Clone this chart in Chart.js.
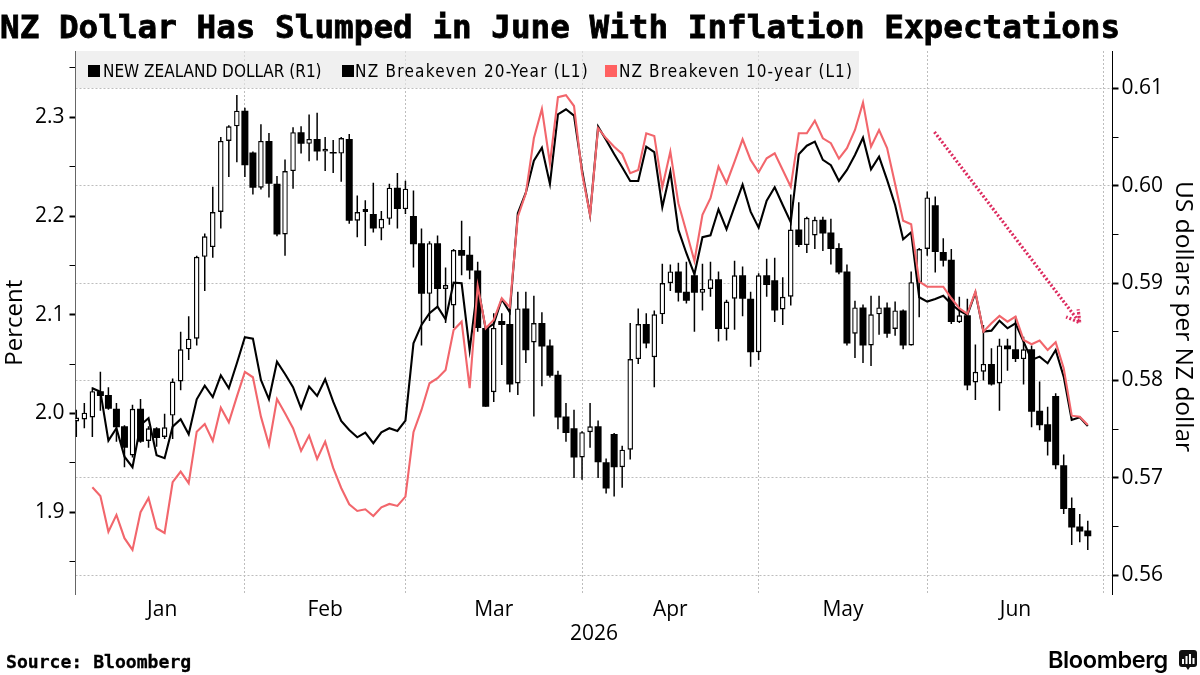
<!DOCTYPE html>
<html>
<head>
<meta charset="utf-8">
<title>NZ Dollar Has Slumped in June With Inflation Expectations</title>
<script src="https://cdn.jsdelivr.net/npm/chart.js@4"></script>
<style>
    html, body { margin: 0; background: #fff; }
    #page { position: relative; width: 1200px; height: 675px; overflow: hidden; color: #000; }
    #page div, #page span { position: absolute; white-space: nowrap; }
    canvas { position: absolute; left: 0; top: 0; }
    #title { left: 0; top: 6px; font: bold 32.65px/42px "DejaVu Sans Mono"; -webkit-text-stroke: 0.8px #000; }
    #source { left: 6px; top: 651px; font: bold 18.1px/22px "DejaVu Sans Mono"; -webkit-text-stroke: 0.3px #000; }
    #legend { left: 76px; top: 51px; width: 783px; height: 37px; background: rgba(232, 232, 232, 0.65); }
    #legend span { font: condensed 17px/20px "DejaVu Sans"; top: 10px; }
    #legend i { position: absolute; top: 14px; width: 12px; height: 12px; }
    #rightTitle { left: 1170px; top: 181px; writing-mode: vertical-rl; font: 24.5px/30px "Open Sans"; }
    #brand { left: 1048px; top: 645px; font: 600 23.5px/30px Inter; letter-spacing: -0.4px; }
    #brandIcon { position: absolute; left: 1179px; top: 650px; }
</style>
</head>
<body>
<div id="page">
    <canvas id="chart" width="1200" height="675"></canvas>
    <div id="title">NZ Dollar Has Slumped in June With Inflation Expectations</div>
    <div id="legend"></div>
    <div id="rightTitle">US dollars per NZ dollar</div>
    <div id="source">Source: Bloomberg</div>
    <div id="brand">Bloomberg</div>
    <svg id="brandIcon" width="18" height="20" viewBox="0 0 18 20">
        <rect x="0" y="0" width="18" height="17" rx="3" fill="#111"/>
        <path d="M7 17h4l-2 3z" fill="#111"/>
        <rect x="3" y="9" width="2" height="5" fill="#fff"/>
        <rect x="6.5" y="6" width="2" height="8" fill="#fff"/>
        <rect x="10" y="4" width="2" height="10" fill="#fff"/>
        <rect x="13.5" y="8" width="2" height="6" fill="#fff"/>
    </svg>
</div>

<script>
// NZD/USD daily candles, trading days from 2 Jan 2026
const open = [
    .5758, .5760, .5762, .5789, .5785, .5771, .5753, .5723, .5771, .5738,
    .5751, .5742, .5764, .5799, .5832, .5843, .5927, .5937, .5973, .6046,
    .6061, .6077, .6034, .5998, .6046, .6002, .5950, .6015, .6055, .6043,
    .6048, .6035, .6034, .6033, .6048, .5964, .5973, .5971, .5956, .5966,
    .5998, .5976, .5969, .5941, .5889, .5941, .5894, .5877, .5934, .5929,
    .5913, .5854, .5788, .5861, .5858, .5797, .5874, .5839, .5859, .5836,
    .5806, .5763, .5751, .5721, .5747, .5753, .5716, .5745, .5711, .5729,
    .5822, .5858, .5824, .5868, .5900, .5912, .5891, .5908, .5890, .5894,
    .5904, .5853, .5884, .5908, .5884, .5829, .5908, .5903, .5873, .5886,
    .5955, .5939, .5949, .5965, .5952, .5936, .5912, .5848, .5875, .5836,
    .5868, .5875, .5853, .5872, .5836, .5901, .5935, .5980, .5932, .5924,
    .5860, .5867, .5798, .5809, .5817, .5797, .5836, .5832, .5822, .5832,
    .5769, .5755, .5784, .5713, .5669, .5650, .5646
];
const close = [
    .5762, .5767, .5789, .5784, .5771, .5752, .5731, .5771, .5737, .5751,
    .5741, .5752, .5799, .5832, .5843, .5927, .5948, .5973, .6046, .6061,
    .6077, .6021, .5998, .6046, .6002, .5950, .6015, .6055, .6043, .6048,
    .6035, .6038, .6033, .6049, .5964, .5973, .5976, .5956, .5966, .5998,
    .5976, .5997, .5940, .5889, .5941, .5894, .5898, .5934, .5928, .5913,
    .5854, .5773, .5854, .5857, .5796, .5874, .5831, .5859, .5835, .5805,
    .5762, .5746, .5721, .5747, .5753, .5716, .5689, .5711, .5729, .5822,
    .5858, .5838, .5868, .5900, .5912, .5890, .5882, .5890, .5894, .5904,
    .5853, .5881, .5908, .5884, .5829, .5908, .5898, .5872, .5886, .5955,
    .5939, .5967, .5965, .5951, .5935, .5911, .5838, .5875, .5836, .5868,
    .5875, .5848, .5872, .5836, .5901, .5935, .5988, .5932, .5923, .5860,
    .5867, .5795, .5809, .5817, .5796, .5836, .5832, .5822, .5832, .5768,
    .5754, .5737, .5713, .5668, .5649, .5645, .5640
];
const high = [
    .5770, .5777, .5793, .5809, .5793, .5777, .5754, .5775, .5781, .5753,
    .5752, .5766, .5802, .5850, .5866, .5928, .5951, .5999, .6050, .6062,
    .6093, .6080, .6035, .6063, .6054, .6010, .6027, .6060, .6061, .6073,
    .6075, .6050, .6047, .6050, .6053, .5990, .5985, .6003, .5974, .6002,
    .6013, .6005, .5995, .5956, .5943, .5949, .5916, .5935, .5964, .5948,
    .5922, .5856, .5869, .5869, .5870, .5891, .5891, .5887, .5870, .5842,
    .5810, .5777, .5770, .5748, .5777, .5759, .5720, .5746, .5733, .5859,
    .5874, .5869, .5872, .5920, .5919, .5921, .5922, .5913, .5920, .5922,
    .5912, .5883, .5923, .5917, .5891, .5910, .5925, .5926, .5906, .5991,
    .5983, .5968, .5968, .5968, .5966, .5941, .5919, .5882, .5878, .5887,
    .5887, .5880, .5881, .5873, .5912, .5936, .5994, .5989, .5946, .5935,
    .5886, .5884, .5837, .5857, .5833, .5843, .5843, .5866, .5845, .5836,
    .5799, .5773, .5787, .5724, .5680, .5663, .5656
];
const low = [
    .5742, .5751, .5742, .5769, .5770, .5737, .5711, .5721, .5736, .5731,
    .5732, .5740, .5740, .5790, .5821, .5836, .5892, .5926, .5956, .6009,
    .6024, .6009, .5991, .5996, .5988, .5948, .5928, .5997, .6033, .6025,
    .6026, .6015, .6013, .6004, .5961, .5947, .5938, .5952, .5944, .5960,
    .5956, .5971, .5916, .5836, .5861, .5876, .5859, .5854, .5908, .5904,
    .5850, .5773, .5778, .5816, .5788, .5785, .5818, .5763, .5794, .5803,
    .5750, .5737, .5700, .5698, .5731, .5700, .5684, .5681, .5690, .5719,
    .5817, .5833, .5793, .5858, .5892, .5881, .5879, .5850, .5872, .5886,
    .5840, .5841, .5852, .5866, .5814, .5821, .5886, .5860, .5857, .5877,
    .5937, .5931, .5935, .5933, .5919, .5909, .5836, .5823, .5818, .5815,
    .5847, .5844, .5846, .5832, .5836, .5865, .5928, .5911, .5917, .5858,
    .5859, .5790, .5780, .5800, .5795, .5769, .5810, .5819, .5796, .5752,
    .5749, .5723, .5709, .5663, .5631, .5634, .5626
];

// Breakeven rates in percent, same trading days
const breakeven20 = [
    null, null, 2.0256, 2.0221, 1.9725, 1.9851, 1.9563, 1.9456, 1.9884, 1.9952,
    1.9577, 1.9547, 1.9867, 1.9942, 1.979, 2.0144, 2.0282, 2.0167, 2.0387, 2.0256,
    2.0509, 2.0772, 2.0758, 2.034, 2.0144, 2.0525, 2.04, 2.0266, 2.0053, 2.0272,
    2.0178, 2.0347, 2.012, 1.9924, 1.9833, 1.9759, 1.9806, 1.9699, 1.981, 1.9851,
    1.9823, 1.9927, 2.0711, 2.0897, 2.1015, 2.1082, 2.0954, 2.1325, 2.1319, 2.0643,
    2.1302, 2.0853, 2.0907, 2.1157, 2.1025, 2.2028, 2.2236, 2.256, 2.2692, 2.2325,
    2.303, 2.3081, 2.3016, 2.2466, 2.2011, 2.2905, 2.277, 2.2628, 2.2494, 2.2355,
    2.2355, 2.2702, 2.2646, 2.2089, 2.2449, 2.1859, 2.1623, 2.141, 2.1785, 2.1805,
    2.2068, 2.1866, 2.2095, 2.2317, 2.2044, 2.1882, 2.2155, 2.2291, 2.2112, 2.1937,
    2.2625, 2.2712, 2.2753, 2.2568, 2.2514, 2.2355, 2.2466, 2.2618, 2.2793, 2.2473,
    2.2601, 2.2365, 2.2112, 2.1765, 2.1835, 2.1177, 2.1133, 2.116, 2.1193, 2.1109,
    2.1041, 2.0998, 2.1224, 2.0829, 2.0839, 2.094, 2.0863, 2.0914, 2.0728, 2.0542,
    2.0576, 2.0509, 2.0643, 2.0373, 1.9935, 1.9962, 1.9874
];
const breakeven10 = [
    null, null, 1.9253, 1.9165, 1.8803, 1.8973, 1.8737, 1.8618, 1.9, 1.9145,
    1.8838, 1.879, 1.9304, 1.9411, 1.9294, 1.9816, 1.9894, 1.9722, 2.0059, 1.9911,
    2.0171, 2.0421, 2.0367, 1.9968, 1.9681, 2.0147, 2.0002, 1.9851, 1.9621, 1.9776,
    1.954, 1.9715, 1.9449, 1.9246, 1.9081, 1.9013, 1.903, 1.8962, 1.905, 1.9084,
    1.9064, 1.9158, 1.981, 2.0036, 2.0306, 2.0357, 2.0441, 2.0846, 2.093, 2.0256,
    2.1292, 2.0863, 2.0947, 2.1167, 2.1076, 2.1993, 2.223, 2.2787, 2.3084, 2.2534,
    2.3203, 2.3223, 2.3114, 2.2433, 2.2011, 2.2889, 2.2787, 2.2702, 2.2628, 2.2433,
    2.2466, 2.2838, 2.2811, 2.2291, 2.2652, 2.2129, 2.1841, 2.1545, 2.2011, 2.218,
    2.25, 2.2332, 2.255, 2.2777, 2.2568, 2.2443, 2.2585, 2.2635, 2.2466, 2.2297,
    2.2838, 2.2838, 2.2966, 2.2787, 2.2737, 2.2581, 2.2686, 2.2871, 2.3148, 2.2702,
    2.2871, 2.2689, 2.2325, 2.1953, 2.1916, 2.1335, 2.1284, 2.1284, 2.1284, 2.1167,
    2.1066, 2.1008, 2.1234, 2.0829, 2.0914, 2.0988, 2.093, 2.0981, 2.0745, 2.0701,
    2.0738, 2.0643, 2.0721, 2.0458, 1.9978, 1.9968, 1.9884
];

const months = ['Jan', 'Feb', 'Mar', 'Apr', 'May', 'Jun'];
const monthStarts = [21, 41, 63, 85, 106, 128];
const monthCentres = [10.7, 31, 52, 74, 95.5, 117];
const percentTicks = [1.9, 2.0, 2.1, 2.2, 2.3];
const percentMinor = [1.85, 1.95, 2.05, 2.15, 2.25, 2.35];
const dollarTicks = [0.56, 0.57, 0.58, 0.59, 0.60, 0.61];
const dollarMinor = [0.565, 0.575, 0.585, 0.595, 0.605];

// trend arrow, shaft then the two sides of the head
const arrowX = [106.9, 125, 124.8, 125, 123.3];
const arrowY = [2.2851, 2.092, 2.1056, 2.092, 2.0978];

const legendItems = [
    { label: 'NEW ZEALAND DOLLAR (R1)', color: '#000', swatch: 88, text: 103, spacing: 0 },
    { label: 'NZ Breakeven 20-Year (L1)', color: '#000', swatch: 342, text: 355, spacing: 1.25 },
    { label: 'NZ Breakeven 10-year (L1)', color: '#ff6161', swatch: 605, text: 619, spacing: 1.1 }
];

const legend = document.getElementById('legend');
legendItems.forEach(item => {
    const box = document.createElement('i');
    box.style.left = (item.swatch - 76) + 'px';
    box.style.background = item.color;
    legend.appendChild(box);
    const text = document.createElement('span');
    text.style.left = (item.text - 76) + 'px';
    text.style.letterSpacing = item.spacing + 'px';
    text.textContent = item.label;
    legend.appendChild(text);
});

const days = open.map((v, i) => i);
const upDays = days.filter(i => close[i] > open[i]);
const downDays = days.filter(i => close[i] <= open[i]);
const tickFont = { family: 'Open Sans', size: 21 };
const titleFont = { family: 'Open Sans', size: 24 };

const candleBase = { type: 'bar', yAxisID: 'y1', grouped: false, borderSkipped: false, inflateAmount: 0 };

new Chart(document.getElementById('chart'), {
    data: {
        datasets: [
            {
                ...candleBase,
                label: 'wicks',
                order: 5,
                barThickness: 1.5,
                backgroundColor: '#000',
                data: days.map(i => ({ x: i, y: [low[i], high[i]] }))
            },
            {
                ...candleBase,
                label: 'up days',
                order: 4,
                barThickness: 5.5,
                backgroundColor: '#fff',
                borderColor: '#000',
                borderWidth: 1.4,
                data: upDays.map(i => ({ x: i, y: [open[i], close[i]] }))
            },
            {
                ...candleBase,
                label: 'down days',
                order: 3,
                barThickness: 7,
                backgroundColor: '#000',
                minBarLength: 1.5,
                data: downDays.map(i => ({ x: i, y: [open[i], close[i]] }))
            },
            {
                type: 'line',
                label: 'NZ Breakeven 20-Year',
                order: 2,
                yAxisID: 'y',
                borderColor: '#000',
                borderWidth: 2.1,
                pointRadius: 0,
                data: breakeven20.map((v, i) => ({ x: i, y: v }))
            },
            {
                type: 'line',
                label: 'NZ Breakeven 10-year',
                order: 1,
                yAxisID: 'y',
                borderColor: '#f2666c',
                borderWidth: 2.1,
                pointRadius: 0,
                data: breakeven10.map((v, i) => ({ x: i, y: v }))
            },
            {
                type: 'line',
                label: 'trend',
                order: 0,
                yAxisID: 'y',
                borderColor: '#dc2a5e',
                borderWidth: 3.2,
                borderDash: [2, 2],
                pointRadius: 0,
                data: arrowX.map((v, i) => ({ x: v, y: arrowY[i] }))
            }
        ]
    },
    options: {
        responsive: false,
        animation: false,
        layout: { padding: { top: 51, left: 0, right: 0, bottom: 0 } },
        plugins: { legend: { display: false }, tooltip: { enabled: false } },
        scales: {
            x: {
                type: 'linear',
                position: 'bottom',
                min: -0.1,
                max: 129.08,
                offset: false,
                afterBuildTicks: s => { s.ticks = monthStarts.map(v => ({ value: v })); },
                afterFit: s => { s.height = 0; },
                ticks: { display: false },
                grid: { color: '#bdbdbd', lineWidth: 1, offset: false, drawTicks: false },
                border: { display: false, dash: [2, 2] }
            },
            xMonth: {
                type: 'linear',
                axis: 'x',
                position: 'bottom',
                min: -0.1,
                max: 129.08,
                offset: false,
                afterBuildTicks: s => { s.ticks = monthCentres.map(v => ({ value: v })); },
                afterFit: s => { s.height = 80.5; },
                ticks: {
                    autoSkip: false,
                    maxRotation: 0,
                    padding: 3,
                    color: '#000',
                    font: tickFont,
                    callback: v => months[monthCentres.indexOf(v)]
                },
                grid: { display: false, drawTicks: false },
                border: { display: false },
                title: { display: true, text: '2026', color: '#000', font: tickFont, padding: { top: 0, bottom: 28 } }
            },
            y: {
                position: 'left',
                min: 1.8167,
                max: 2.3671,
                afterBuildTicks: s => {
                    s.ticks = percentMinor.concat(percentTicks).sort().map(v => ({ value: v }));
                },
                afterFit: s => { s.width = 75.5; },
                ticks: {
                    autoSkip: false,
                    padding: 5,
                    color: '#000',
                    font: tickFont,
                    callback: v => percentTicks.includes(v) ? v.toFixed(1) : ''
                },
                grid: {
                    drawOnChartArea: false,
                    tickLength: 6,
                    tickColor: '#000',
                    tickWidth: ctx => percentTicks.includes(ctx.tick.value) ? 2 : 1
                },
                border: { color: '#666', width: 1 },
                title: { display: true, text: 'Percent', color: '#000', font: titleFont, padding: { top: 1, bottom: 0 } }
            },
            y1: {
                position: 'right',
                min: 0.55803,
                max: 0.61383,
                afterBuildTicks: s => {
                    s.ticks = dollarMinor.concat(dollarTicks).sort().map(v => ({ value: v }));
                },
                afterFit: s => { s.width = 87.5; },
                ticks: {
                    autoSkip: false,
                    padding: 3,
                    color: '#000',
                    font: tickFont,
                    callback: v => dollarTicks.includes(v) ? v.toFixed(2) : ''
                },
                grid: {
                    color: ctx => dollarTicks.includes(ctx.tick.value) ? '#bdbdbd' : 'transparent',
                    tickLength: 6,
                    tickColor: '#000',
                    tickWidth: ctx => dollarTicks.includes(ctx.tick.value) ? 2 : 1
                },
                border: { color: '#000', width: 1, dash: [2, 2] }
            }
        }
    }
});
</script>
</body>
</html>
